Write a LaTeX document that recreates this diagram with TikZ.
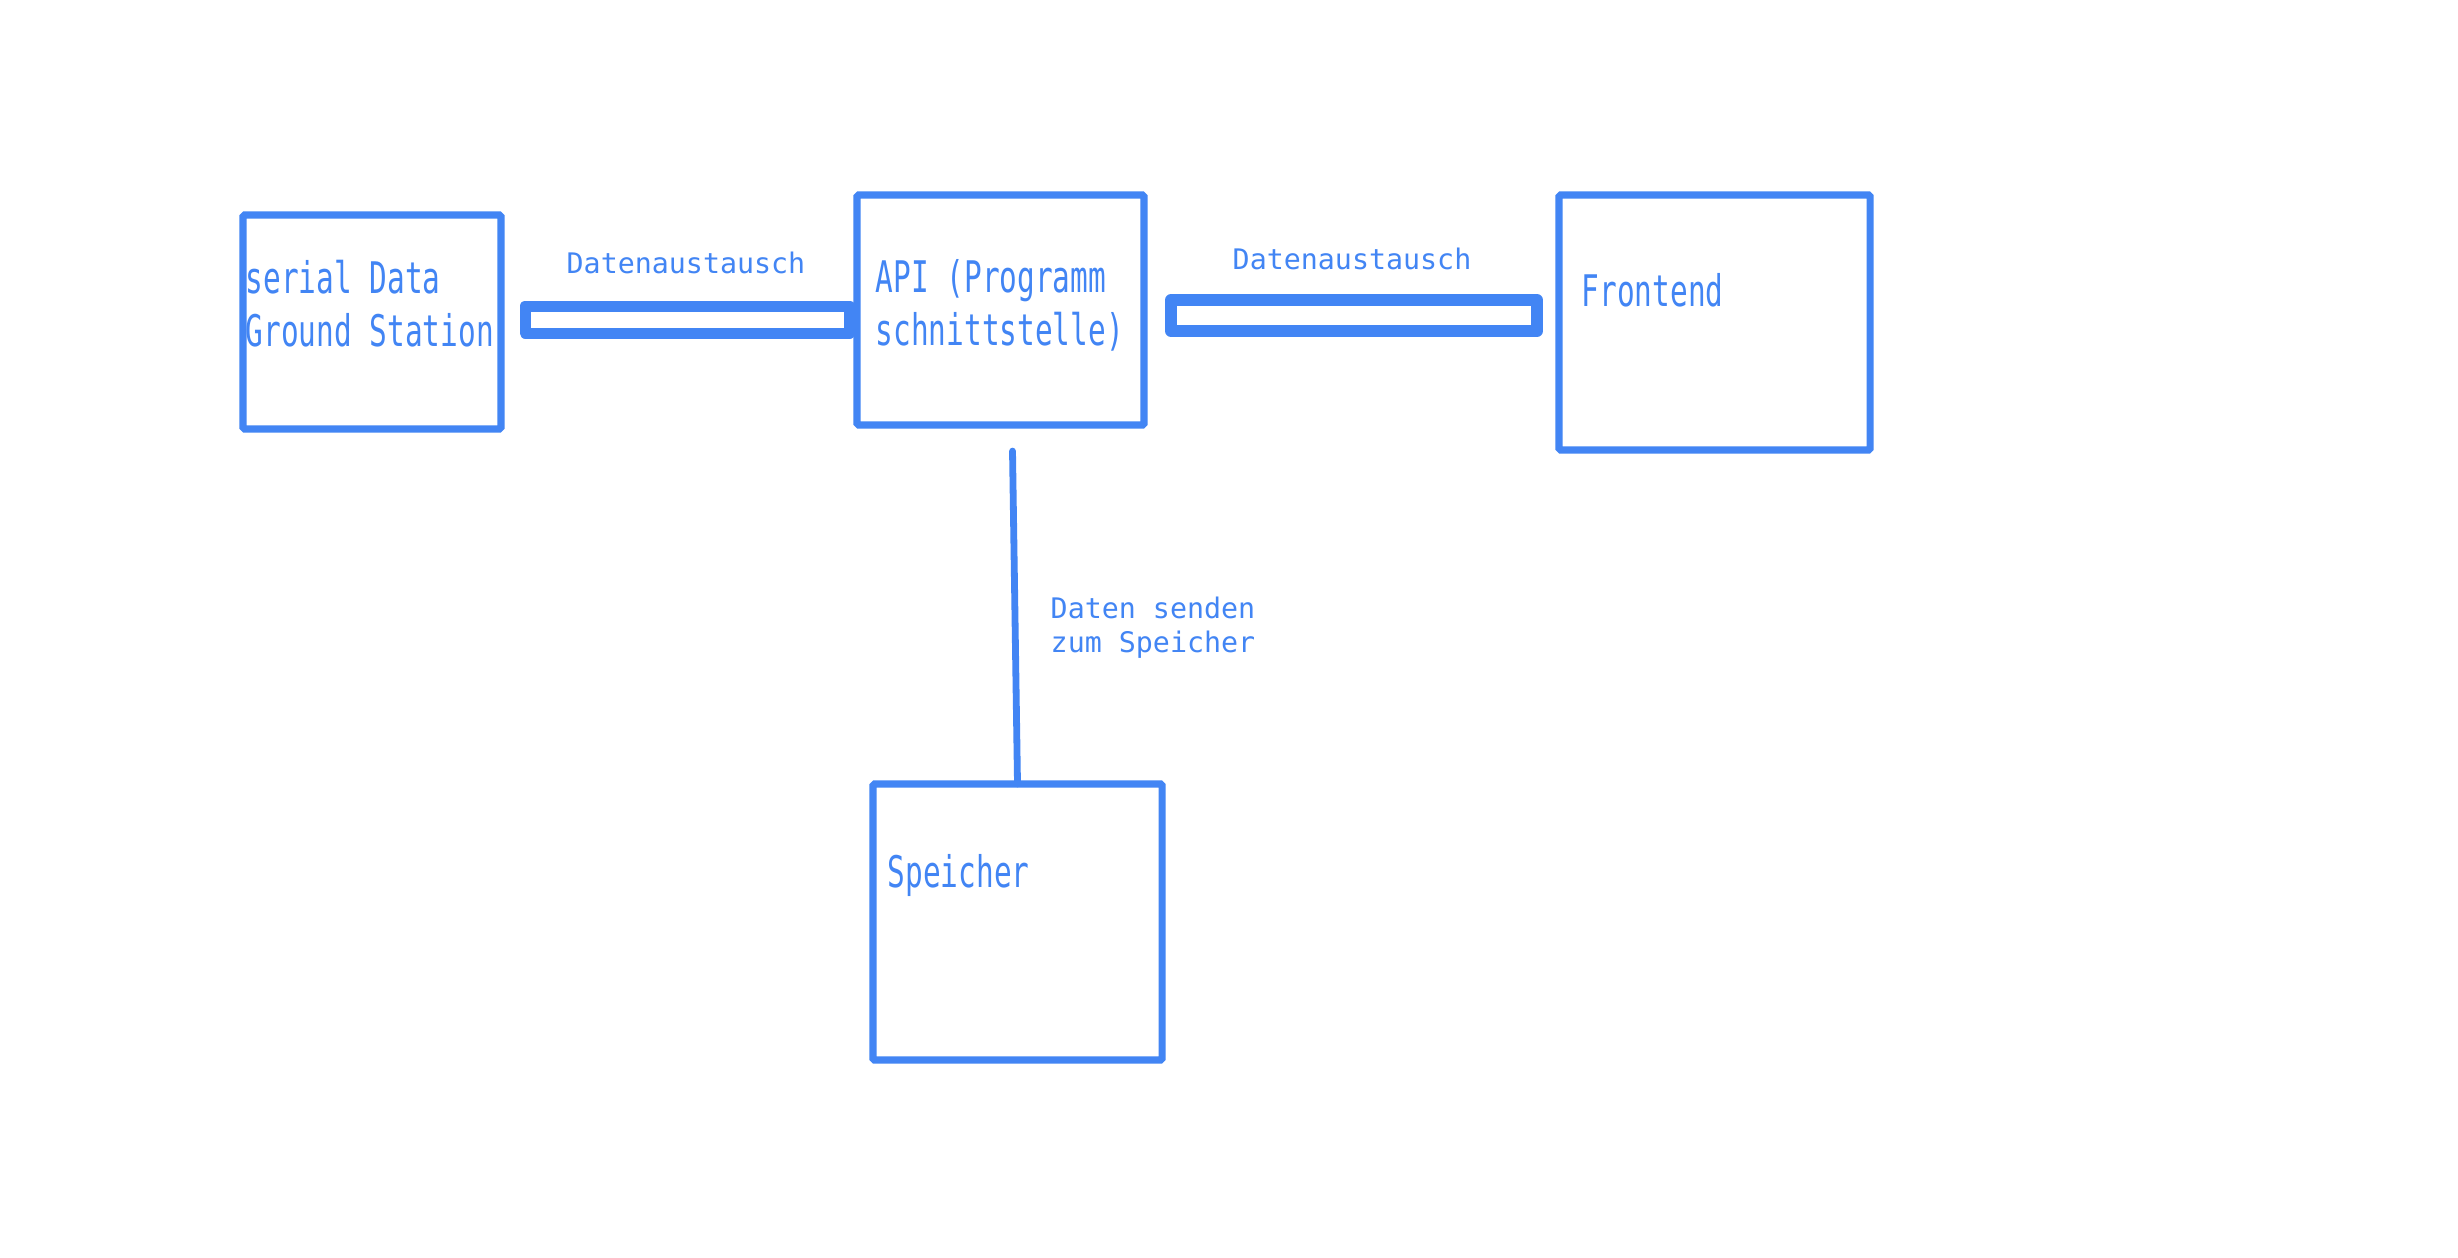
\documentclass[tikz,border=0pt]{standalone}
\usepackage{fontspec}
\setmainfont{DejaVu Sans}
\newfontfamily\labfont{DejaVu Sans Mono}
\newfontfamily\boxfont[FakeStretch=0.676]{DejaVu Sans Mono}
\usetikzlibrary{calc}
\definecolor{gblue}{RGB}{66,133,244}
\begin{document}
\begin{tikzpicture}[x=0.01cm,y=-0.01cm,
  box/.style={draw=gblue, line width=0.072cm, rounded corners=0.5pt, inner sep=0pt, outer sep=0pt},
  pipe/.style={draw=gblue, line width=0.11cm, line join=round},
  wire/.style={draw=gblue, line width=0.068cm, line cap=round},
  boxtext/.style={text=gblue, font=\boxfont\fontsize{12.38pt}{15.2pt}\selectfont, inner sep=0pt, anchor=base west, align=left},
  lab/.style={text=gblue, font=\labfont\fontsize{8.05pt}{9.67pt}\selectfont, inner sep=0pt}]
\fill[white] (0,0) rectangle (2458,1257);
\useasboundingbox (0,0) rectangle (2458,1257);
% boxes
\node[box, minimum width=2.58cm, minimum height=2.14cm] (g) at (372,322) {};
\node[box, minimum width=2.87cm, minimum height=2.30cm] (api) at (1000.5,310) {};
\node[box, minimum width=3.11cm, minimum height=2.55cm] (fe) at (1714.5,322.5) {};
\node[box, minimum width=2.89cm, minimum height=2.76cm] (sp) at (1017.5,922) {};
% pipes
\coordinate (p1a) at ($(g.east)+(24,-16)$);
\coordinate (p1b) at ($(api.west)+(-7,23)$);
\draw[pipe] (p1a) rectangle (p1b);
\coordinate (p2a) at ($(api.east)+(27,-10)$);
\coordinate (p2b) at ($(fe.west)+(-22,8.5)$);
\draw[pipe, line width=0.12cm] (p2a) rectangle (p2b);
% wire
\coordinate (w) at ($(api.south)+(12,26)$);
\draw[wire] (w) -- (sp.north);
% labels
\node[lab, anchor=base] (l1) at (686,273) {Datenaustausch};
\node[lab, anchor=base] (l2) at (1352,269.5) {Datenaustausch};
\node[lab, anchor=base west, align=left] (l3) at (1050,652) {Daten senden\\zum Speicher};
% box texts
\node[boxtext] (gt) at (245,346.5) {serial Data\\Ground Station};
\node[boxtext] (apit) at (875,345.7) {API (Programm\\schnittstelle)};
\node[boxtext] (fet) at (1581,306) {Frontend};
\node[boxtext] (spt) at (887,887) {Speicher};
\end{tikzpicture}
\end{document}
